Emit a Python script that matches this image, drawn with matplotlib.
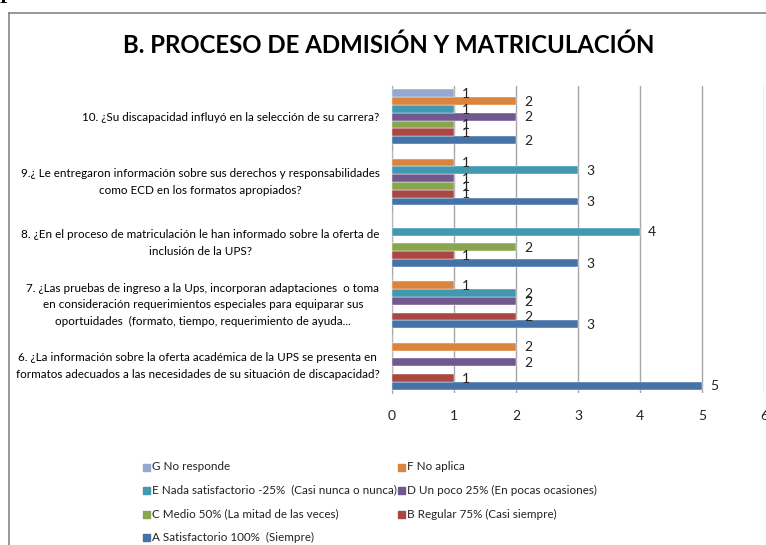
import matplotlib
matplotlib.use("Agg")
import matplotlib.pyplot as plt
import numpy as np
from matplotlib.lines import Line2D

FONT = ['Lato', 'DejaVu Sans']
plt.rcParams['font.family'] = FONT

title = "B. PROCESO DE ADMISIÓN Y MATRICULACIÓN"

categories = [
    "6. ¿La información sobre la oferta académica de la UPS se presenta en\nformatos adecuados a las necesidades de su situación de discapacidad?",
    "7. ¿Las pruebas de ingreso a la Ups, incorporan adaptaciones  o toma\nen consideración requerimientos especiales para equiparar sus\noportuidades  (formato, tiempo, requerimiento de ayuda...",
    "8. ¿En el proceso de matriculación le han informado sobre la oferta de\ninclusión de la UPS?",
    "9.¿ Le entregaron información sobre sus derechos y responsabilidades\ncomo ECD en los formatos apropiados?",
    "10. ¿Su discapacidad influyó en la selección de su carrera?",
]

series_names = [
    "A Satisfactorio 100%  (Siempre)",
    "B Regular 75% (Casi siempre)",
    "C Medio 50% (La mitad de las veces)",
    "D Un poco 25% (En pocas ocasiones)",
    "E Nada satisfactorio -25%  (Casi nunca o nunca)",
    "F No aplica",
    "G No responde",
]

A = [5, 3, 3, 3, 2]
B = [1, 2, 1, 1, 1]
C = [0, 0, 2, 1, 1]
D = [2, 2, 0, 1, 2]
E = [0, 2, 4, 3, 1]
F = [2, 1, 0, 1, 2]
G = [0, 0, 0, 0, 1]
series_values = [A, B, C, D, E, F, G]

colors = ["#4572A7", "#AA4643", "#89A54E", "#71588F", "#4198AF", "#DB843D", "#93A9CF"]

W, H = 766, 545
fig = plt.figure(figsize=(W / 100, H / 100), dpi=100)

# chart frame (extends past right/bottom edges)
fig.add_artist(Line2D([9 / W, 9 / W], [0, 1 - 13 / H], color="#868686", lw=1.2))
fig.add_artist(Line2D([9 / W, 1], [1 - 13 / H, 1 - 13 / H], color="#868686", lw=1.2))
# cropped glyph from surrounding document
fig.text(0 / W, 1 + 2 / H, "P", fontsize=14, fontweight="bold", family=["Liberation Serif", "DejaVu Serif"],
         ha="left", va="center", color="black")

ax_l, ax_r, ax_t, ax_b = 392, 764, 86, 393
ax = fig.add_axes([ax_l / W, 1 - ax_b / H, (ax_r - ax_l) / W, (ax_b - ax_t) / H])

n = len(series_values)
h = 0.89 / n
y = np.arange(len(categories))
for i, (vals, c) in enumerate(zip(series_values, colors)):
    pos = y + (i - (n - 1) / 2) * h
    ax.barh(pos, vals, height=h, color=c, edgecolor="white", linewidth=0.3, zorder=3)
    for p, v in zip(pos, vals):
        if v:
            ax.text(v + 0.13, p - 0.01, str(v), ha="left", va="center", fontsize=10, color="#222222", zorder=4)

ax.set_xlim(0, 6)
ax.set_ylim(-0.5, len(categories) - 0.5)
ax.set_xticks(range(0, 7))
ax.xaxis.grid(True, color="#A6A6A6", lw=1.0, zorder=0)
ax.set_yticks(y)
ax.set_yticklabels(categories, fontsize=8.4, ha="right", multialignment="center", linespacing=1.62)
ax.tick_params(axis="y", length=0, pad=9)
ax.tick_params(axis="x", length=0, pad=12, labelsize=10)
for lbl in ax.get_xticklabels():
    lbl.set_color("#222222")
for s in ["top", "right"]:
    ax.spines[s].set_visible(False)
ax.spines["left"].set_color("#A6A6A6")
ax.spines["bottom"].set_visible(False)

fig.text(389 / W, 1 - 45 / H, title, fontsize=17.3, fontweight="bold", ha="center", va="center")

# legend: two columns, order G F / E D / C B / A
order = [6, 5, 4, 3, 2, 1, 0]
col_x = [146, 401]
row_y = [467, 490, 514, 537]
for k, idx in enumerate(order):
    r, cidx = divmod(k, 2)
    xm, ym = col_x[cidx], row_y[r]
    fig.add_artist(plt.Rectangle(((xm - 3.5) / W, 1 - (ym + 3.5) / H), 7 / W, 7 / H,
                                 transform=fig.transFigure, color=colors[idx]))
    fig.text((xm + 6) / W, 1 - ym / H, series_names[idx], fontsize=8.4, ha="left", va="center", color="#222222")

fig.savefig("out.png", dpi=100)
